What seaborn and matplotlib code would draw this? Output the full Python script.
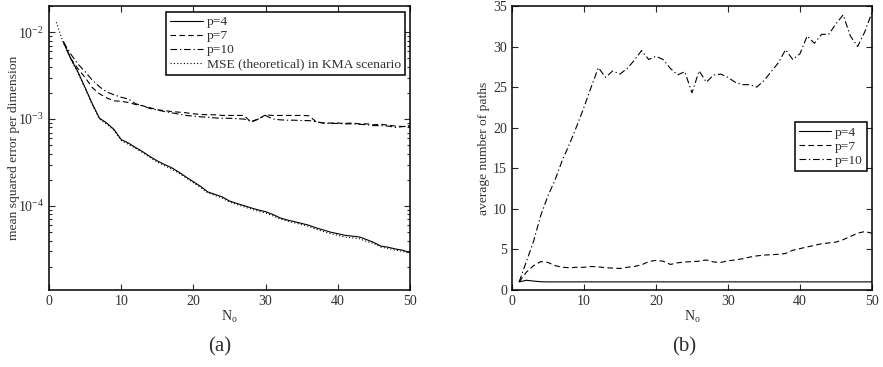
import numpy as np
import pandas as pd
import seaborn as sns
import matplotlib
matplotlib.use("Agg")
import matplotlib.pyplot as plt
from matplotlib.ticker import LogLocator, NullFormatter, MultipleLocator

# ---- data ----
n_obs = list(range(2, 51))

mse_p4 = [7.7e-3, 5.0e-3, 3.5e-3, 2.3e-3, 1.5e-3, 1.02e-3, 9.0e-4, 7.6e-4, 5.8e-4,
          5.3e-4, 4.7e-4, 4.2e-4, 3.7e-4, 3.3e-4, 3.0e-4, 2.75e-4, 2.45e-4, 2.15e-4, 1.9e-4,
          1.68e-4, 1.45e-4, 1.36e-4, 1.27e-4, 1.14e-4, 1.07e-4, 1.01e-4, 9.5e-5, 9.0e-5, 8.6e-5,
          8.0e-5, 7.3e-5, 6.9e-5, 6.6e-5, 6.3e-5, 6.0e-5, 5.6e-5, 5.3e-5, 5.0e-5, 4.8e-5,
          4.6e-5, 4.5e-5, 4.4e-5, 4.1e-5, 3.8e-5, 3.45e-5, 3.35e-5, 3.2e-5, 3.1e-5, 2.9e-5]

mse_p7 = [7.7e-3, 5.0e-3, 3.8e-3, 3.0e-3, 2.3e-3, 1.95e-3, 1.75e-3, 1.62e-3, 1.6e-3,
          1.55e-3, 1.47e-3, 1.42e-3, 1.35e-3, 1.28e-3, 1.25e-3, 1.22e-3, 1.2e-3, 1.18e-3, 1.15e-3,
          1.13e-3, 1.12e-3, 1.12e-3, 1.1e-3, 1.1e-3, 1.1e-3, 1.1e-3, 0.92e-3, 1.0e-3, 1.12e-3,
          1.1e-3, 1.1e-3, 1.1e-3, 1.1e-3, 1.1e-3, 1.09e-3, 0.93e-3, 0.9e-3, 0.9e-3, 0.9e-3,
          0.89e-3, 0.9e-3, 0.88e-3, 0.88e-3, 0.86e-3, 0.87e-3, 0.85e-3, 0.83e-3, 0.82e-3, 0.84e-3]

mse_p10 = [7.7e-3, 5.6e-3, 4.3e-3, 3.5e-3, 2.8e-3, 2.35e-3, 2.05e-3, 1.9e-3, 1.78e-3,
           1.7e-3, 1.5e-3, 1.42e-3, 1.32e-3, 1.27e-3, 1.22e-3, 1.18e-3, 1.14e-3, 1.1e-3, 1.08e-3,
           1.06e-3, 1.05e-3, 1.03e-3, 1.02e-3, 1.02e-3, 1.01e-3, 1.0e-3, 0.94e-3, 1.0e-3, 1.1e-3,
           1.0e-3, 0.98e-3, 0.97e-3, 0.97e-3, 0.96e-3, 0.96e-3, 0.93e-3, 0.9e-3, 0.89e-3, 0.89e-3,
           0.88e-3, 0.88e-3, 0.87e-3, 0.86e-3, 0.84e-3, 0.84e-3, 0.83e-3, 0.8e-3, 0.82e-3, 0.82e-3]

n_theory = list(range(1, 51))
mse_theory = [1.3e-2, 7.5e-3, 4.9e-3, 3.4e-3, 2.25e-3, 1.45e-3, 1.0e-3, 8.7e-4, 7.4e-4, 5.7e-4,
              5.1e-4, 4.6e-4, 4.1e-4, 3.6e-4, 3.2e-4, 2.9e-4, 2.65e-4, 2.38e-4, 2.1e-4, 1.85e-4,
              1.63e-4, 1.42e-4, 1.32e-4, 1.23e-4, 1.11e-4, 1.04e-4, 9.8e-5, 9.2e-5, 8.7e-5, 8.3e-5,
              7.7e-5, 7.1e-5, 6.7e-5, 6.4e-5, 6.1e-5, 5.8e-5, 5.4e-5, 5.1e-5, 4.8e-5, 4.6e-5,
              4.4e-5, 4.3e-5, 4.2e-5, 3.9e-5, 3.7e-5, 3.35e-5, 3.25e-5, 3.1e-5, 3.0e-5, 2.85e-5]

n_paths_x = list(range(1, 51))
paths_p4 = [1.0, 1.2, 1.1, 1.02] + [1.0] * 46
paths_p7 = [1.0, 2.2, 3.0, 3.5, 3.4, 3.0, 2.8, 2.75, 2.8, 2.8,
            2.9, 2.85, 2.75, 2.7, 2.65, 2.8, 2.9, 3.1, 3.5, 3.65,
            3.55, 3.15, 3.35, 3.45, 3.5, 3.55, 3.7, 3.45, 3.4, 3.6,
            3.7, 3.85, 4.05, 4.2, 4.3, 4.35, 4.4, 4.5, 4.9, 5.1,
            5.3, 5.5, 5.7, 5.8, 5.9, 6.2, 6.6, 7.0, 7.2, 7.0]
paths_p10 = [1.0, 3.5, 6.0, 9.2, 11.6, 13.6, 16.0, 18.0, 20.2, 22.5,
             25.0, 27.4, 26.2, 27.0, 26.6, 27.3, 28.3, 29.5, 28.4, 28.8,
             28.4, 27.3, 26.5, 26.9, 24.3, 27.0, 25.6, 26.5, 26.6, 26.2,
             25.6, 25.3, 25.3, 25.0, 25.8, 26.9, 28.0, 29.6, 28.4, 29.1,
             31.3, 30.4, 31.5, 31.5, 32.8, 33.9, 31.3, 30.0, 31.8, 34.2]

# ---- style ----
sns.set_style("ticks")
plt.rcParams["font.family"] = ["Liberation Serif", "DejaVu Serif"]
plt.rcParams["mathtext.fontset"] = "custom"
plt.rcParams["mathtext.rm"] = "Liberation Serif"
plt.rcParams["mathtext.it"] = "Liberation Serif:italic"
plt.rcParams["axes.linewidth"] = 1.1
plt.rcParams["axes.edgecolor"] = "black"

TXT = "#303030"
SOLID = "-"
DASH = (0, (5, 3))
DASHDOT = (0, (6, 2.5, 1.2, 2.5))
DOT = (0, (1, 2))

fig = plt.figure(figsize=(8.83, 3.67), dpi=100)
ax1 = fig.add_axes([0.0555, 0.2098, 0.4088, 0.774])
ax2 = fig.add_axes([0.5798, 0.2098, 0.4077, 0.774])

lw = 0.8
sns.lineplot(x=n_obs, y=mse_p4, ax=ax1, color="k", lw=lw, linestyle=SOLID, label="p=4")
sns.lineplot(x=n_obs, y=mse_p7, ax=ax1, color="k", lw=lw, linestyle=DASH, label="p=7")
sns.lineplot(x=n_obs, y=mse_p10, ax=ax1, color="k", lw=lw, linestyle=DASHDOT, label="p=10")
sns.lineplot(x=n_theory, y=mse_theory, ax=ax1, color="k", lw=lw, linestyle=DOT,
             label="MSE (theoretical) in KMA scenario")

sns.lineplot(x=n_paths_x, y=paths_p4, ax=ax2, color="k", lw=lw, linestyle=SOLID, label="p=4")
sns.lineplot(x=n_paths_x, y=paths_p7, ax=ax2, color="k", lw=lw, linestyle=DASH, label="p=7")
sns.lineplot(x=n_paths_x, y=paths_p10, ax=ax2, color="k", lw=lw, linestyle=DASHDOT, label="p=10")

ax1.set_yscale("log")
ax1.set_xlim(0, 50)
ax1.set_ylim(1.08e-5, 2e-2)
ax1.yaxis.set_major_locator(LogLocator(base=10, numticks=10))
ax1.yaxis.set_minor_locator(LogLocator(base=10, subs=np.arange(2, 10), numticks=20))
ax1.yaxis.set_minor_formatter(NullFormatter())
ax1.set_ylabel("mean squared error per dimension", fontsize=9.7, color=TXT)
ax1.yaxis.set_label_coords(-0.08, 0.5)

ax2.set_xlim(0, 50)
ax2.set_ylim(0, 35)
ax2.yaxis.set_major_locator(MultipleLocator(5))
ax2.set_ylabel("average number of paths", fontsize=9.7, color=TXT)
ax2.yaxis.set_label_coords(-0.061, 0.5)

for ax in (ax1, ax2):
    ax.xaxis.set_major_locator(MultipleLocator(10))
    ax.set_xlabel(r"N$_\mathrm{o}$", fontsize=10, color=TXT, labelpad=1)
    ax.tick_params(which="both", direction="in", top=True, right=True,
                   labelsize=10, labelcolor=TXT, width=0.8)
    ax.tick_params(which="major", length=4)
    ax.tick_params(which="minor", length=2)

leg_kw = dict(fontsize=9.7, frameon=True, fancybox=False, edgecolor="black",
              framealpha=1, handlelength=2.4, handletextpad=0.3,
              labelspacing=0.12, borderpad=0.3, borderaxespad=0)
lg1 = ax1.legend(loc="upper right", bbox_to_anchor=(0.986, 0.979), **leg_kw)
lg2 = ax2.legend(loc="upper right", bbox_to_anchor=(0.986, 0.590), **leg_kw)
for lg in (lg1, lg2):
    lg.get_frame().set_linewidth(1.1)
    for t in lg.get_texts():
        t.set_color(TXT)

fig.text(220 / 883, 1 - 347 / 367, "(a)", fontsize=15, ha="center", va="center", color=TXT)
fig.text(684 / 883, 1 - 347 / 367, "(b)", fontsize=15, ha="center", va="center", color=TXT)

fig.savefig("out.png", dpi=100)
